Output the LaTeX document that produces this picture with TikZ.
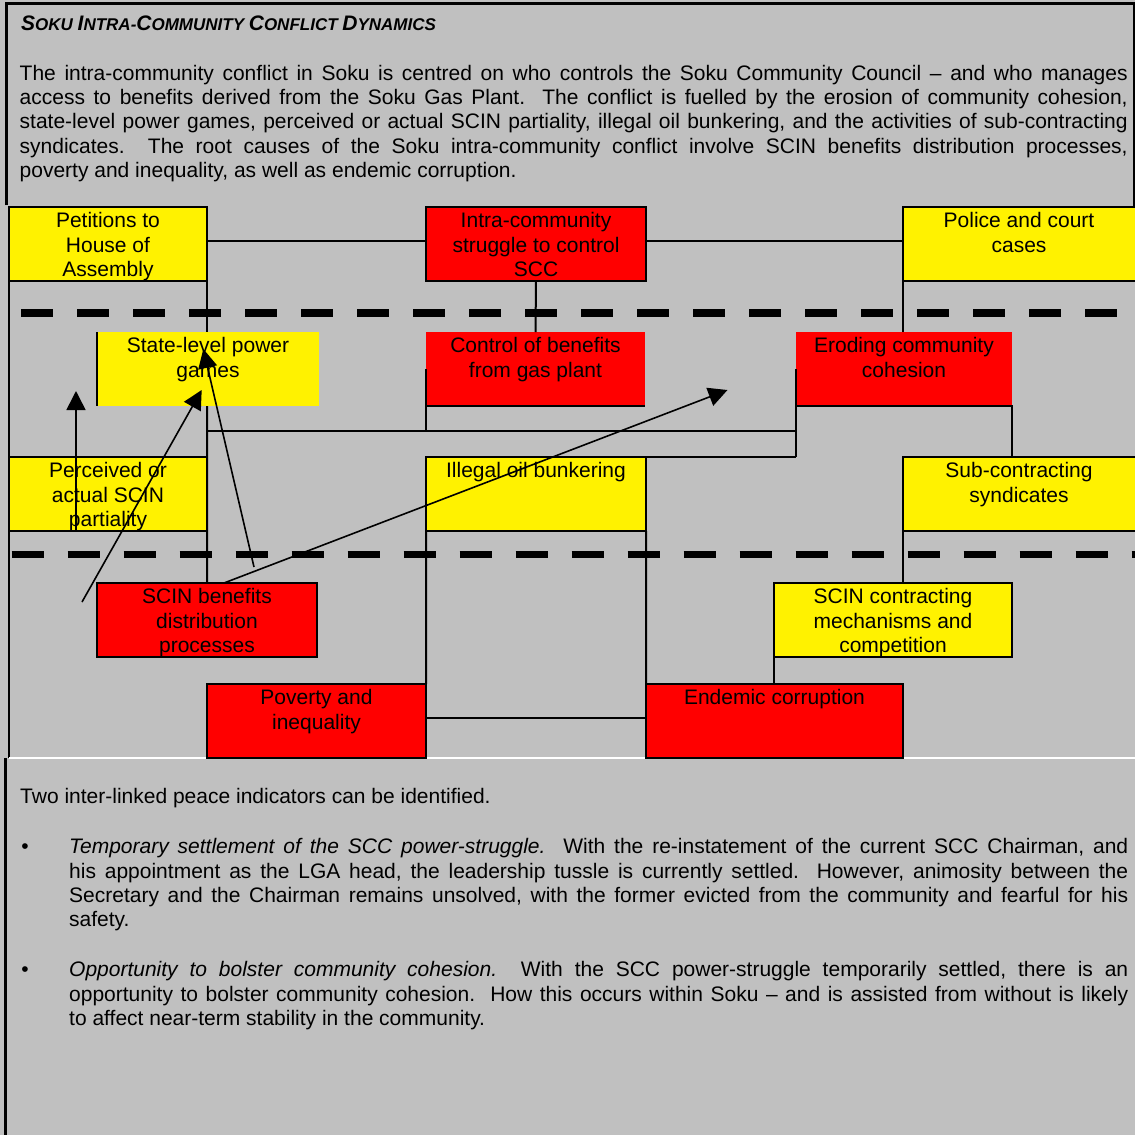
\documentclass[tikz,border=0pt]{standalone}
\usepackage{fontspec}
\setmainfont{Liberation Sans}
\usetikzlibrary{arrows.meta}

\definecolor{panelgray}{HTML}{C0C0C0}
\newcommand{\boxfont}{\fontsize{21bp}{24.5bp}\selectfont}
\newcommand{\bodyfont}{\fontsize{21bp}{24.4bp}\selectfont}
\newcommand{\tsbig}{\fontsize{21bp}{24bp}\selectfont}
\newcommand{\tssmall}{\fontsize{17bp}{24bp}\selectfont}
\hyphenpenalty=10000
\exhyphenpenalty=10000
\frenchspacing

\begin{document}
\begin{tikzpicture}[x=1bp, y=-1bp,
    cause/.style={draw=black, line width=2.2bp, minimum height=74bp, inner sep=0pt, outer sep=0pt, anchor=north west},
    ycause/.style={cause, fill=yellow},
    rcause/.style={cause, fill=red},
    txt/.style={anchor=north, yshift=-3.3bp, align=center, inner sep=0pt, font=\boxfont},
    link/.style={line width=2bp},
    arr/.style={line width=1.6bp, -{Triangle[length=19bp,width=19bp]}},
    divider/.style={line width=8bp, dash pattern=on 32bp off 24bp},
    para/.style={anchor=north west, inner sep=0pt, align=justify, font=\bodyfont}]
        \useasboundingbox (0,0) rectangle (1135,1135);
        \fill[panelgray] (0,0) rectangle (1135,1135);

        % frames
        \draw[line width=3bp] (6,205) -- (6,3) -- (1134,3) -- (1134,207);
        \draw[line width=3bp] (5,758) -- (5,1135);
        \draw[link] (9,207) -- (9,758);
        \draw[white, line width=1.5bp] (9,758) -- (1135,758);

        % text above and below the diagram
        \node[anchor=base west, inner sep=0pt, font=\bfseries\itshape] (title) at (21,30)
            {\tsbig S\tssmall OKU \tsbig I\tssmall NTRA-\tsbig C\tssmall OMMUNITY \tsbig C\tssmall ONFLICT \tsbig D\tssmall YNAMICS};
        \node[para, text width=1108bp] (intro) at (19.5,62.9)
            {\strut The intra-community conflict in Soku is centred on who controls the Soku Community Council -- and who manages\linebreak
            access to benefits derived from the Soku Gas Plant. \ The conflict is fuelled by the erosion of community cohesion,\linebreak
            state-level power games, perceived or actual SCIN partiality, illegal oil bunkering, and the activities of sub-contracting\linebreak
            syndicates. \ The root causes of the Soku intra-community conflict involve SCIN benefits distribution processes,\linebreak
            poverty and inequality, as well as endemic corruption.};
        \node[anchor=base west, inner sep=0pt, font=\bodyfont] (lead) at (20,803)
            {Two inter-linked peace indicators can be identified.};
        \node[anchor=base, inner sep=0pt, font=\bodyfont] (dot1) at (25,853.5) {•};
        \node[para, text width=1059bp] (ind1) at (69,836.4)
            {\strut\textit{Temporary settlement of the SCC power-struggle.} \ With the re-instatement of the current SCC Chairman, and\linebreak
            his appointment as the LGA head, the leadership tussle is currently settled. \ However, animosity between the\linebreak
            Secretary and the Chairman remains unsolved, with the former evicted from the community and fearful for his\linebreak
            safety.};
        \node[anchor=base, inner sep=0pt, font=\bodyfont] (dot2) at (25,976.5) {•};
        \node[para, text width=1059bp] (ind2) at (69,959.4)
            {\strut\textit{Opportunity to bolster community cohesion.} \ With the SCC power-struggle temporarily settled, there is an\linebreak
            opportunity to bolster community cohesion. \ How this occurs within Soku -- and is assisted from without is likely\linebreak
            to affect near-term stability in the community.};

        % row 1
        \node[ycause, minimum width=198bp, label={[txt]north:{\strut Petitions to\\House of\\Assembly}}] (pet) at (9,207) {};
        \node[rcause, minimum width=220bp, label={[txt]north:{\strut Intra-community\\struggle to control\\SCC}}] (intra) at (426,207) {};
        \node[ycause, minimum width=240bp, label={[txt, xshift=-4bp]north:{\strut Police and court\\cases}}] (police) at (903,207) {};

        % row 2
        \node[ycause, draw=none, minimum width=222bp, label={[txt]north:{\strut State-level power\\games}}] (state) at (97,332) {};
        \node[rcause, draw=none, minimum width=219bp, label={[txt]north:{\strut Control of benefits\\from gas plant}}] (ctrl) at (426,332) {};
        \node[rcause, draw=none, minimum width=216bp, label={[txt]north:{\strut Eroding community\\cohesion}}] (ero) at (796,332) {};

        % row 3
        \node[ycause, minimum width=198bp, label={[txt]north:{\strut Perceived or\\actual SCIN\\partiality}}] (perc) at (9,457) {};
        \node[ycause, minimum width=220bp, label={[txt]north:{\strut Illegal oil bunkering}}] (ill) at (426,457) {};
        \node[ycause, minimum width=240bp, label={[txt, xshift=-4bp]north:{\strut Sub-contracting\\syndicates}}] (sub) at (903,457) {};

        % rows 4 and 5
        \node[rcause, minimum width=220bp, label={[txt]north:{\strut SCIN benefits\\distribution\\processes}}] (scinb) at (97,583) {};
        \node[ycause, minimum width=238bp, label={[txt]north:{\strut SCIN contracting\\mechanisms and\\competition}}] (scinc) at (774,583) {};
        \node[rcause, minimum width=219bp, label={[txt]north:{\strut Poverty and\\inequality}}] (pov) at (207,684) {};
        \node[rcause, minimum width=257bp, label={[txt]north:{\strut Endemic corruption}}] (endem) at (646,684) {};

        % links
        \coordinate (jl) at (207,431);
        \draw[link] ([yshift=3bp]pet.east) -- ([yshift=3bp]intra.west);
        \draw[link] ([yshift=3bp]intra.east) -- ([yshift=3bp]intra.east -| police.west);
        \draw[link] (intra.south) -- (ctrl.north);
        \draw[link] (pet.south east) -- (pet.south east |- state.north);
        \draw[link] (state.south -| pet.south east) -- (scinb.north);
        \draw[link] (state.north west) -- (state.south west);
        \draw[link] (ctrl.west) -- (ctrl.south west |- jl);
        \draw[link] (ctrl.south west) -- (ctrl.south east);
        \draw[link] (jl) -- (jl -| ero.west);
        \draw[link] (ero.west) -- (ero.south west |- ill.north);
        \draw[link] (ill.north east) -- (ill.north east -| ero.west);
        \draw[link] (ero.south west) -- (ero.south east) -- (ero.south east |- sub.north);
        \draw[link] (police.south west) -- (police.south west |- ero.north);
        \draw[link] (sub.south west) -- (sub.south west |- scinc.north);
        \draw[link] (scinc.south west) -- (scinc.south west |- endem.north);
        \draw[link] (ill.south west) -- (pov.north east);
        \draw[link] (ill.south east) -- (endem.north west);
        \draw[link] ([yshift=3bp]pov.east) -- ([yshift=3bp]endem.west);

        % level dividers
        \draw[divider] (21,312.5) -- (1117,312.5);
        \draw[divider, line width=7.5bp] (11.5,554.5) -- (1140,554.5);

        % influence arrows
        \coordinate (upA) at (76,391);
        \coordinate (tailB) at (82,602);
        \coordinate (tipB) at (201.7,390);
        \coordinate (tailC) at (254,567);
        \coordinate (tipC) at (203.3,349);
        \coordinate (tipD) at (727.5,390);
        \draw[arr] (perc.south west -| upA) -- (upA);
        \draw[arr] (tailB) -- (tipB);
        \draw[arr] (tailC) -- (tipC);
        \draw[arr] ([xshift=17bp]scinb.north) -- (tipD);
    \end{tikzpicture}
\end{document}
